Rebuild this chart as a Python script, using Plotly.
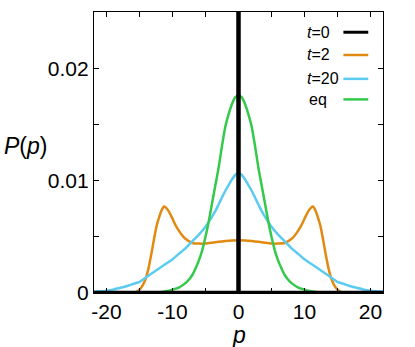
import plotly.graph_objects as go

# momentum grid and distributions
p_t0 = [-21.9, 0.0, 0.0, 0.0, 21.9]
P_t0 = [0.0, 0.0, 0.03, 0.0, 0.0]

p_t2 = [-21.9, -16, -15.5, -15, -14.5, -14, -13.6, -13.2, -12.8, -12.4, -12, -11.7, -11.3,
        -11, -10.5, -10, -9.5, -9, -8.5, -8, -7, -6, -5, -4, -3, -2, -1, 0,
        1, 2, 3, 4, 5, 6, 7, 8, 8.5, 9, 9.5, 10, 10.5, 11, 11.3, 11.7, 12, 12.4,
        12.8, 13.2, 13.6, 14, 14.5, 15, 15.5, 16, 21.9]
P_t2 = [0, 0, 0.0001, 0.0003, 0.0007, 0.0014, 0.0023, 0.0035, 0.0048, 0.0060, 0.0068, 0.0073, 0.0077,
        0.0076, 0.0072, 0.0066, 0.0060, 0.0055, 0.0051, 0.0048, 0.00445, 0.0044, 0.0044, 0.00447, 0.00455, 0.00462, 0.00468, 0.0047,
        0.00468, 0.00462, 0.00455, 0.00447, 0.0044, 0.0044, 0.00445, 0.0048, 0.0051, 0.0055, 0.0060, 0.0066, 0.0072, 0.0076, 0.0077, 0.0073, 0.0068, 0.0060,
        0.0048, 0.0035, 0.0023, 0.0014, 0.0007, 0.0003, 0.0001, 0, 0]

p_t20 = [-21.9, -21, -20, -19, -18, -17, -16, -15, -14, -13, -12, -11, -10, -9, -8, -7, -6, -5, -4,
         -3.5, -3, -2.5, -2, -1.5, -1, -0.5, 0, 0.5, 1, 1.5, 2, 2.5, 3, 3.5,
         4, 5, 6, 7, 8, 9, 10, 11, 12, 13, 14, 15, 16, 17, 18, 19, 20, 21, 21.9]
P_t20 = [0.0001, 0.00015, 0.0002, 0.0003, 0.00045, 0.0006, 0.0008, 0.0010, 0.0014, 0.0018, 0.0022, 0.0026, 0.0030, 0.0035, 0.0040, 0.0046, 0.0052, 0.0059, 0.0068,
         0.0073, 0.0079, 0.0085, 0.0091, 0.0096, 0.0101, 0.0105, 0.0107, 0.0105, 0.0101, 0.0096, 0.0091, 0.0085, 0.0079, 0.0073,
         0.0068, 0.0059, 0.0052, 0.0046, 0.0040, 0.0035, 0.0030, 0.0026, 0.0022, 0.0018, 0.0014, 0.0010, 0.0008, 0.0006, 0.00045, 0.0003, 0.0002, 0.00015, 0.0001]

p_eq = [-21.9, -14, -13, -12, -11, -10, -9, -8, -7.5, -7, -6.5, -6, -5.5, -5, -4.5, -4, -3.5, -3,
        -2.5, -2, -1.5, -1, -0.5, 0, 0.5, 1, 1.5, 2, 2.5, 3, 3.5, 4, 4.5, 5,
        5.5, 6, 6.5, 7, 7.5, 8, 9, 10, 11, 12, 13, 14, 21.9]
P_eq = [0, 0, 0.00003, 0.00007, 0.00015, 0.0003, 0.0005, 0.0009, 0.0012, 0.0016, 0.0022, 0.0029, 0.0038, 0.0050, 0.0064, 0.0080, 0.0096, 0.0112,
        0.0131, 0.0148, 0.0159, 0.0168, 0.0174, 0.0176, 0.0174, 0.0168, 0.0159, 0.0148, 0.0131, 0.0112, 0.0096, 0.0080, 0.0064, 0.0050,
        0.0038, 0.0029, 0.0022, 0.0016, 0.0012, 0.0009, 0.0005, 0.0003, 0.00015, 0.00007, 0.00003, 0, 0]

x_ticks = [-20, -15, -10, -5, 0, 5, 10, 15, 20]
x_labels = ["-20", "", "-10", "", "0", "", "10", "", "20"]
y_ticks = [0, 0.005, 0.01, 0.015, 0.02]
y_labels = ["0", "", "0.01", "", "0.02"]

series = [
    ("t=0", p_t0, P_t0, "black", 4.5),
    ("t=2", p_t2, P_t2, "#e08a12", 2.5),
    ("t=20", p_t20, P_t20, "#5ccbf0", 2.5),
    ("eq", p_eq, P_eq, "#35c94c", 2.5),
]
legend_text = ["<i>t</i>=0", "<i>t</i>=2", "<i>t</i>=20", "eq"]

FONT = "Liberation Sans, Arial, sans-serif"

fig = go.Figure()
# colored curves first, the t=0 delta line on top
for name, x, y, color, width in series[1:] + series[:1]:
    if name == "t=0":
        line = dict(color=color, width=width)
    else:
        line = dict(color=color, width=width, shape="spline", smoothing=0.6)
    fig.add_trace(go.Scatter(x=x, y=y, mode="lines", name=name, line=line, showlegend=False))

# hand-made legend: text on the left, line sample on the right
legend_y = [0.928, 0.847, 0.762, 0.689]
for (name, _, _, color, width), text, ly in zip(series, legend_text, legend_y):
    if name == "eq":
        lx, anchor = 0.812, "right"
    else:
        lx, anchor = 0.731, "left"
    fig.add_annotation(x=lx, y=ly, xref="paper", yref="paper", text=text, showarrow=False,
                       xanchor=anchor, yanchor="middle", font=dict(size=16, color="black", family=FONT))
    fig.add_shape(type="line", xref="paper", yref="paper", x0=0.863, x1=0.949, y0=ly, y1=ly,
                  line=dict(color=color, width=min(width, 3)))

fig.add_annotation(x=-0.318, y=0.523, xref="paper", yref="paper", text="<i>P</i>(<i>p</i>)",
                   showarrow=False, xanchor="left", yanchor="middle",
                   font=dict(size=23, color="black", family=FONT))
fig.add_annotation(x=0.5, y=-0.149, xref="paper", yref="paper", text="<i>p</i>",
                   showarrow=False, xanchor="center", yanchor="middle",
                   font=dict(size=23, color="black", family=FONT))

fig.update_xaxes(range=[-21.9, 21.9], tickvals=x_ticks, ticktext=x_labels, ticks="inside", ticklen=5,
                 tickcolor="black", mirror="ticks", showline=True, linecolor="black", linewidth=1.3,
                 showgrid=False, zeroline=False, tickfont=dict(size=21, color="black", family=FONT))
fig.update_yaxes(range=[0, 0.025], tickvals=y_ticks, ticktext=y_labels, ticks="inside", ticklen=5,
                 tickcolor="black", mirror="ticks", showline=True, linecolor="black", linewidth=1.3,
                 showgrid=False, zeroline=False, tickfont=dict(size=21, color="black", family=FONT))

fig.update_layout(width=415, height=347, margin=dict(l=94, r=32, t=12, b=54),
                  plot_bgcolor="white", paper_bgcolor="white", showlegend=False)

fig.write_html("out.html", config={"displayModeBar": False},
               post_script="document.body.style.margin='0';")
